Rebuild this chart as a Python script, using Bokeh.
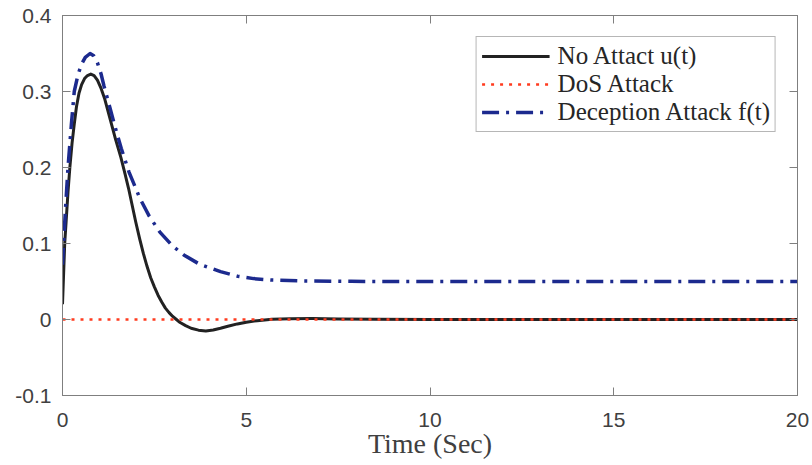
from bokeh.plotting import figure
from bokeh.models import Legend, LegendItem, LinearAxis, FixedTicker, Range1d
from bokeh.embed import file_html
from bokeh.resources import INLINE

# ---- data ----
t_u = [0, 0.06, 0.1, 0.15, 0.2, 0.26, 0.32, 0.38, 0.45, 0.52, 0.6, 0.68, 0.77, 0.86, 0.95,
       1.05, 1.15, 1.3, 1.45, 1.59, 1.7, 1.8, 1.99, 2.1, 2.2, 2.3, 2.4, 2.5, 2.6, 2.7, 2.8,
       2.9, 3.0, 3.1, 3.2, 3.35, 3.5, 3.7, 3.9, 4.1, 4.3, 4.5, 4.76, 5.0, 5.3, 5.7, 6.2, 6.8,
       7.5, 8.5, 10, 20]
u_vals = [0.02, 0.10, 0.13, 0.168, 0.20, 0.232, 0.257, 0.28, 0.298, 0.309, 0.317, 0.321, 0.323,
          0.321, 0.315, 0.304, 0.290, 0.263, 0.236, 0.213, 0.192, 0.172, 0.129, 0.106, 0.087,
          0.070, 0.055, 0.043, 0.032, 0.023, 0.015, 0.009, 0.004, 0.0, -0.004, -0.008, -0.0115,
          -0.014, -0.015, -0.0138, -0.0115, -0.0088, -0.0058, -0.0035, -0.0015, 0.0002, 0.001,
          0.0012, 0.0008, 0.0003, 0.0, 0.0]

t_f = [0, 0.03, 0.08, 0.15, 0.24, 0.32, 0.42, 0.52, 0.62, 0.75, 0.85, 0.95, 1.05, 1.13, 1.3,
       1.45, 1.6, 1.81, 2.1, 2.36, 2.65, 2.99, 3.3, 3.72, 4.3, 4.76, 5.2, 5.67, 6.5, 7.85, 10, 20]
f_vals = [0.072, 0.10, 0.145, 0.20, 0.256, 0.30, 0.322, 0.336, 0.345, 0.350, 0.347, 0.338,
          0.323, 0.307, 0.277, 0.250, 0.225, 0.194, 0.160, 0.136, 0.115, 0.097, 0.085, 0.073,
          0.063, 0.057, 0.0538, 0.052, 0.0508, 0.0502, 0.050, 0.050]

t_dos = [0, 20]
dos_vals = [0, 0]

x_ticks = [0, 5, 10, 15, 20]
y_ticks = [-0.1, 0, 0.1, 0.2, 0.3, 0.4]
y_tick_labels = ["-0.1", "0", "0.1", "0.2", "0.3", "0.4"]

series_labels = ["No Attact u(t)", "DoS Attack", "Deception Attack f(t)"]
x_label = "Time (Sec)"

AXIS_COLOR = "#7f7f7f"
TICK_TEXT = "#404040"

p = figure(width=812, height=465, x_range=Range1d(0, 20), y_range=Range1d(-0.1, 0.4),
           output_backend="svg", toolbar_location=None,
           min_border_left=62, min_border_right=15, min_border_top=15, min_border_bottom=70)
p.xgrid.visible = False
p.ygrid.visible = False
p.outline_line_color = AXIS_COLOR
p.outline_line_width = 1
p.background_fill_color = "white"
p.border_fill_color = "white"

r_u = p.line(t_u, u_vals, line_color="#222222", line_width=3, line_join="round")
r_dos = p.line(t_dos, dos_vals, line_color="#ff3b1f", line_width=2.5, line_dash="3 6")
r_f = p.line(t_f, f_vals, line_color="#1c2a8e", line_width=3.5, line_dash="17 7 3 7",
             line_join="round")

xa = p.xaxis[0]
ya = p.yaxis[0]
xa.ticker = FixedTicker(ticks=x_ticks)
ya.ticker = FixedTicker(ticks=y_ticks)
ya.major_label_overrides = dict(zip(y_ticks, y_tick_labels))
for ax in (xa, ya):
    ax.axis_line_color = AXIS_COLOR
    ax.major_tick_line_color = AXIS_COLOR
    ax.major_tick_in = 8
    ax.major_tick_out = 0
    ax.minor_tick_line_color = None
    ax.major_label_text_font = "Liberation Sans"
    ax.major_label_text_font_size = "21px"
    ax.major_label_text_color = TICK_TEXT
xa.major_label_standoff = 17
ya.major_label_standoff = 11
xa.axis_label = x_label
xa.axis_label_text_font = "Liberation Serif"
xa.axis_label_text_font_style = "normal"
xa.axis_label_text_font_size = "28px"
xa.axis_label_text_color = TICK_TEXT
xa.axis_label_standoff = -2

# mirrored box ticks (top and right), no labels
top_ax = LinearAxis(ticker=FixedTicker(ticks=x_ticks))
right_ax = LinearAxis(ticker=FixedTicker(ticks=y_ticks))
for ax in (top_ax, right_ax):
    ax.axis_line_color = AXIS_COLOR
    ax.major_tick_line_color = AXIS_COLOR
    ax.major_tick_in = 8
    ax.major_tick_out = 0
    ax.minor_tick_line_color = None
    ax.major_label_text_font_size = "0px"
    ax.major_label_text_color = None
    ax.major_label_standoff = 0
p.add_layout(top_ax, "above")
p.add_layout(right_ax, "right")

legend = Legend(items=[LegendItem(label=series_labels[0], renderers=[r_u]),
                       LegendItem(label=series_labels[1], renderers=[r_dos]),
                       LegendItem(label=series_labels[2], renderers=[r_f])],
                location="top_right")
legend.margin = 21
legend.padding = 5
legend.spacing = -1
legend.glyph_width = 68
legend.glyph_height = 20
legend.label_height = 20
legend.label_standoff = 8
legend.label_text_font = "Liberation Serif"
legend.label_text_font_size = "25px"
legend.label_text_color = "#262626"
legend.border_line_color = "#6e6e6e"
legend.border_line_width = 1
legend.background_fill_color = "white"
legend.background_fill_alpha = 1
p.add_layout(legend)

open("out.html", "w").write(file_html(p, INLINE))
